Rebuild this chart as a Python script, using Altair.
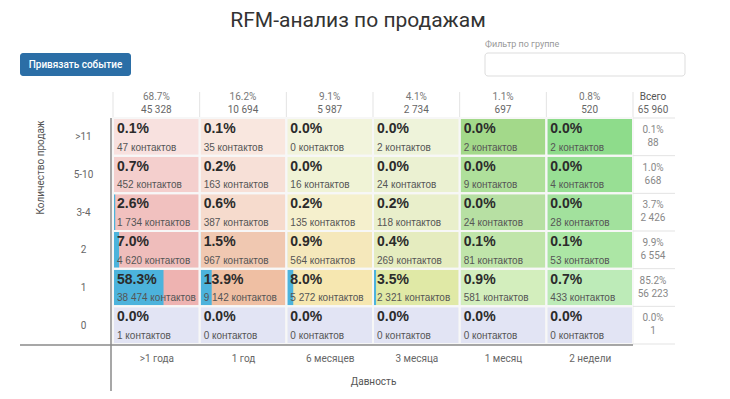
import json
import altair as alt
import pandas as pd

# ---------------- data ----------------
recency = [">1 года", "1 год", "6 месяцев", "3 месяца", "1 месяц", "2 недели"]
frequency = [">11", "5-10", "3-4", "2", "1", "0"]

cell_pct = [
    [0.1, 0.1, 0.0, 0.0, 0.0, 0.0],
    [0.7, 0.2, 0.0, 0.0, 0.0, 0.0],
    [2.6, 0.6, 0.2, 0.2, 0.0, 0.0],
    [7.0, 1.5, 0.9, 0.4, 0.1, 0.1],
    [58.3, 13.9, 8.0, 3.5, 0.9, 0.7],
    [0.0, 0.0, 0.0, 0.0, 0.0, 0.0],
]
cell_contacts = [
    [47, 35, 0, 2, 2, 2],
    [452, 163, 16, 24, 9, 4],
    [1734, 387, 135, 118, 24, 28],
    [4620, 967, 564, 269, 81, 53],
    [38474, 9142, 5272, 2321, 581, 433],
    [1, 0, 0, 0, 0, 0],
]
col_pct = [68.7, 16.2, 9.1, 4.1, 1.1, 0.8]
col_total = [45328, 10694, 5987, 2734, 697, 520]
row_pct = [0.1, 1.0, 3.7, 9.9, 85.2, 0.0]
row_total = [88, 668, 2426, 6554, 56223, 1]
grand_total = 65960
total_label = "Всего"
unit = "контактов"

# ---------------- styles ----------------
palette = [
    ["#f8e1df", "#f9e7df", "#f2f4dc", "#eef3da", "#a3d98a", "#8edc8b"],
    ["#f4cfcd", "#f7e0d7", "#f0f3d6", "#ebf1d2", "#afe09b", "#98df94"],
    ["#f1c1bf", "#f6dbcd", "#f5f0cd", "#e9efcb", "#b7e0a3", "#a2e19d"],
    ["#efbdbb", "#f0c8b1", "#f5e8bb", "#e5ecbf", "#c0e5aa", "#ace6a5"],
    ["#eeb3b1", "#efbfa3", "#f6e7b0", "#e0e9a6", "#d3eebd", "#bdebb8"],
    ["#e2e4f4"] * 6,
]
BAR_BLUE = "#4cb3dc"
TEXT_FONT = "Liberation Sans"
UI_FONT = "Roboto"


def fmt(n):
    return f"{n:,}".replace(",", " ")


rows = []
for r in range(len(frequency)):
    for c in range(len(recency)):
        p = cell_pct[r][c]
        rows.append({
            "xi": c, "xi2": c + 1, "yi": r, "yi2": r + 1,
            "xb": c + p / 100.0,
            "pct": f"{p:.1f}%",
            "cnt": f"{fmt(cell_contacts[r][c])} {unit}",
            "color": palette[r][c],
        })
cells = pd.DataFrame(rows)

header = pd.DataFrame({
    "xc": [i + 0.5 for i in range(len(recency))],
    "pct": [f"{p:.1f}%" for p in col_pct],
    "cnt": [fmt(n) for n in col_total],
})
totals = pd.DataFrame({
    "yi": list(range(len(frequency))),
    "pct": [f"{p:.1f}%" for p in row_pct],
    "cnt": [fmt(n) for n in row_total],
})
col_bounds = pd.DataFrame({"xb": list(range(len(recency) + 1))})
row_bounds = pd.DataFrame({"yb": list(range(len(frequency) + 1))})
one = pd.DataFrame({"a": [0]})

W, H = 520, 226

XS = alt.Scale(domain=[0, len(recency)], nice=False, zero=False)
YS = alt.Scale(domain=[0, len(frequency)], nice=False, zero=False, reverse=True)

XAX = alt.Axis(
    values=[i + 0.5 for i in range(len(recency))],
    labelExpr=f"{json.dumps(recency, ensure_ascii=False)}[floor(datum.value)]",
    grid=False, domain=False, ticks=False, tickSize=0, labelPadding=9,
    labelFont=UI_FONT, labelFontSize=10, labelColor="#666", labelAngle=0,
    title="Давность", titleFont=UI_FONT, titleFontSize=10,
    titleFontWeight="normal", titleColor="#555", titleY=37,
    titleBaseline="middle",
)
YAX = alt.Axis(
    values=[i + 0.5 for i in range(len(frequency))],
    labelExpr=f"{json.dumps(frequency, ensure_ascii=False)}[floor(datum.value)]",
    grid=False, domain=False, ticks=False, tickSize=0, labelPadding=30,
    labelAlign="center", labelBaseline="middle",
    labelFont=UI_FONT, labelFontSize=10, labelColor="#666",
    title="Количество продаж", titleFont=UI_FONT, titleFontSize=10,
    titleFontWeight="normal", titleColor="#555", titleAngle=-90,
    titleX=-73, titleY=49, titleAlign="center", titleBaseline="middle",
)


def X(f):
    return alt.X(f, scale=XS, axis=XAX)


def Y(f):
    return alt.Y(f, scale=YS, axis=YAX)


base = alt.Chart(cells)

cell_fill = base.mark_rect(strokeWidth=0).encode(
    x=X("xi:Q"), x2="xi2:Q", y=Y("yi:Q"), y2="yi2:Q",
    color=alt.Color("color:N", scale=None),
)
blue_bars = base.mark_rect(color=BAR_BLUE, strokeWidth=0).encode(
    x=X("xi:Q"), x2="xb:Q", y=Y("yi:Q"), y2="yi2:Q",
)
cell_outline = base.mark_rect(fillOpacity=0, stroke="#f7f7f7", strokeWidth=2).encode(
    x=X("xi:Q"), x2="xi2:Q", y=Y("yi:Q"), y2="yi2:Q",
)
pct_text = base.mark_text(
    align="left", baseline="top", dx=4, dy=4, font=TEXT_FONT,
    fontSize=14, fontWeight="bold", color="#2b2b2b",
).encode(x=X("xi:Q"), y=Y("yi:Q"), text="pct:N")
cnt_text = base.mark_text(
    align="left", baseline="alphabetic", dx=4, dy=-5, font=TEXT_FONT,
    fontSize=10, color="#555",
).encode(x=X("xi:Q"), y=Y("yi2:Q"), text="cnt:N")

hbase = alt.Chart(header)
head_pct = hbase.mark_text(font=UI_FONT, fontSize=10, color="#777", baseline="middle").encode(
    x=X("xc:Q"), y=alt.value(-21), text="pct:N")
head_cnt = hbase.mark_text(font=UI_FONT, fontSize=10, color="#666", baseline="middle").encode(
    x=X("xc:Q"), y=alt.value(-8), text="cnt:N")
head_sep = alt.Chart(col_bounds).mark_rule(color="#e3e3e3", strokeWidth=1).encode(
    x=X("xb:Q"), y=alt.value(-26), y2=alt.value(-1))

TOT_X = 540
tot_head = alt.Chart(one).mark_text(font=UI_FONT, fontSize=10, color="#555", baseline="middle").encode(
    x=alt.value(TOT_X), y=alt.value(-21), text=alt.value(total_label))
tot_grand = alt.Chart(one).mark_text(font=UI_FONT, fontSize=10, color="#666", baseline="middle").encode(
    x=alt.value(TOT_X), y=alt.value(-8), text=alt.value(fmt(grand_total)))
tbase = alt.Chart(totals)
tot_pct = tbase.mark_text(font=UI_FONT, fontSize=10, color="#888", baseline="middle", dy=12).encode(
    x=alt.value(TOT_X), y=Y("yi:Q"), text="pct:N")
tot_cnt = tbase.mark_text(font=UI_FONT, fontSize=10, color="#888", baseline="middle", dy=25).encode(
    x=alt.value(TOT_X), y=Y("yi:Q"), text="cnt:N")
tot_sep = alt.Chart(row_bounds).mark_rule(color="#e3e3e3", strokeWidth=1).encode(
    y=Y("yb:Q"), x=alt.value(W), x2=alt.value(W + 42))

# axis lines
v_axis = alt.Chart(one).mark_rule(color="#8a8a8a", strokeWidth=1.5).encode(
    x=alt.value(-2), y=alt.value(0), y2=alt.value(H + 48))
h_axis = alt.Chart(one).mark_rule(color="#8a8a8a", strokeWidth=1.5).encode(
    y=alt.value(H + 1), x=alt.value(-93), x2=alt.value(W))

# page furniture
title = alt.Chart(one).mark_text(
    font=UI_FONT, fontSize=21, color="#333", align="center", baseline="middle",
).encode(x=alt.value(245), y=alt.value(-97), text=alt.value("RFM-анализ по продажам"))
button = alt.Chart(one).mark_rect(color="#2b6ea6", cornerRadius=3).encode(
    x=alt.value(-93), x2=alt.value(18), y=alt.value(-65), y2=alt.value(-42))
button_text = alt.Chart(one).mark_text(
    font=UI_FONT, fontSize=10, fontWeight=500, color="#ffffff", align="center", baseline="middle",
).encode(x=alt.value(-37.5), y=alt.value(-53.5), text=alt.value("Привязать событие"))
filter_label = alt.Chart(one).mark_text(
    font=UI_FONT, fontSize=9, color="#999", align="left", baseline="middle",
).encode(x=alt.value(372), y=alt.value(-74), text=alt.value("Фильтр по группе"))
filter_box = alt.Chart(one).mark_rect(fill="#ffffff", stroke="#dddddd", strokeWidth=1, cornerRadius=3).encode(
    x=alt.value(372), x2=alt.value(572), y=alt.value(-65), y2=alt.value(-42))

chart = alt.layer(
    cell_fill, blue_bars, cell_outline, pct_text, cnt_text,
    head_sep, head_pct, head_cnt, tot_head, tot_grand,
    tot_sep, tot_pct, tot_cnt, v_axis, h_axis,
    title, button, button_text, filter_label, filter_box,
).properties(
    width=W, height=H,
    autosize=alt.AutoSizeParams(type="none"),
    padding={"left": 105, "top": 110, "right": 89, "bottom": 47},
).configure_view(stroke=None)

chart.save("out.html", embed_options={"renderer": "svg", "actions": False})
